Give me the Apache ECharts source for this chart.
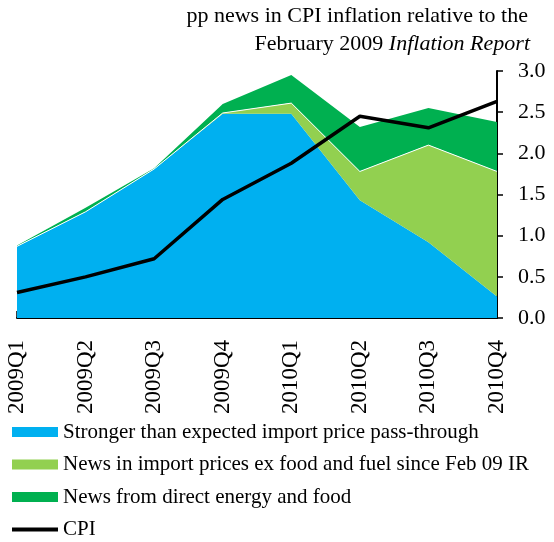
<!DOCTYPE html>
<html>
<head>
<meta charset="utf-8">
<script src="https://cdn.jsdelivr.net/npm/echarts@6/dist/echarts.min.js"></script>
<style>
  html, body { margin: 0; padding: 0; background: #fff; }
  #main { width: 554px; height: 542px; }
</style>
</head>
<body>
<div id="main"></div>
<script>
// quarters on the x axis
var quarters = ['2009Q1', '2009Q2', '2009Q3', '2009Q4', '2010Q1', '2010Q2', '2010Q3', '2010Q4'];
// stacked contributions (pp)
var passThrough = [0.87, 1.29, 1.81, 2.48, 2.48, 1.43, 0.92, 0.26];
var importNews = [0.00, 0.00, 0.00, 0.01, 0.13, 0.35, 1.18, 1.52];
var energyFood = [0.01, 0.05, 0.01, 0.11, 0.34, 0.54, 0.45, 0.60];
// CPI news line
var cpi = [0.31, 0.50, 0.72, 1.44, 1.88, 2.45, 2.31, 2.63];
var yTicks = [0, 0.5, 1, 1.5, 2, 2.5, 3];

var names = [
  'Stronger than expected import price pass-through',
  'News in import prices ex food and fuel since Feb 09 IR',
  'News from direct energy and food',
  'CPI'
];

var FONT = '"Liberation Serif", "Times New Roman", serif';
var chart = echarts.init(document.getElementById('main'));

var option = {
  animation: false,
  textStyle: { fontFamily: FONT, color: '#000' },
  graphic: [
    {
      type: 'text',
      right: 26,
      top: 5,
      style: {
        text: 'pp news in CPI inflation relative to the',
        font: '22px ' + FONT,
        fill: '#000',
        align: 'right'
      }
    },
    {
      type: 'text',
      right: 24,
      top: 33,
      style: {
        text: 'February 2009 {i|Inflation Report}',
        font: '22px ' + FONT,
        fill: '#000',
        align: 'right',
        rich: {
          i: { font: 'italic 22px ' + FONT, fill: '#000' }
        }
      }
    }
  ],
  legend: {
    orient: 'vertical',
    left: 12,
    top: 421,
    padding: 0,
    itemWidth: 46,
    itemHeight: 10,
    itemGap: 10.5,
    selectedMode: false,
    textStyle: { fontFamily: FONT, fontSize: 21, color: '#000', lineHeight: 22 },
    data: [
      { name: names[0], icon: 'rect' },
      { name: names[1], icon: 'rect' },
      { name: names[2], icon: 'rect' },
      { name: names[3], icon: 'path://M0,0 L0.01,0 Z M0,3 L46,3 L46,7 L0,7 Z M0,10 L0.01,10 Z' }
    ]
  },
  grid: { left: 17, right: 57, top: 71, bottom: 224 },
  xAxis: {
    type: 'category',
    boundaryGap: false,
    data: quarters,
    axisLine: { lineStyle: { color: '#000', width: 2 } },
    axisTick: { inside: true, length: 7, interval: 0, lineStyle: { color: '#000', width: 1.5 } },
    axisLabel: {
      rotate: 90,
      interval: 0,
      margin: 22,
      fontFamily: FONT,
      fontSize: 23,
      color: '#000'
    },
    splitLine: { show: false }
  },
  yAxis: {
    type: 'value',
    position: 'right',
    min: 0,
    max: 3,
    interval: 0.5,
    axisLine: { show: true, lineStyle: { color: '#000', width: 2 } },
    axisTick: { show: true, inside: false, length: 6, lineStyle: { color: '#000', width: 1.5 } },
    axisLabel: {
      margin: 21,
      fontFamily: FONT,
      fontSize: 22,
      color: '#000',
      formatter: function (v) { return v.toFixed(1); }
    },
    splitLine: { show: false }
  },
  series: [
    {
      name: names[0],
      type: 'line',
      stack: 'news',
      data: passThrough,
      symbol: 'none',
      color: '#00B0F0',
      lineStyle: { width: 0 },
      areaStyle: { color: '#00B0F0', opacity: 1 },
      z: 2
    },
    {
      name: names[1],
      type: 'line',
      stack: 'news',
      data: importNews,
      symbol: 'none',
      color: '#92D050',
      lineStyle: { width: 1, color: '#ffffff' },
      areaStyle: { color: '#92D050', opacity: 1 },
      z: 2
    },
    {
      name: names[2],
      type: 'line',
      stack: 'news',
      data: energyFood,
      symbol: 'none',
      color: '#00B050',
      lineStyle: { width: 0 },
      areaStyle: { color: '#00B050', opacity: 1 },
      z: 2
    },
    {
      name: names[3],
      type: 'line',
      data: cpi,
      symbol: 'none',
      color: '#000',
      lineStyle: { width: 3.5, color: '#000' },
      z: 5
    }
  ]
};

chart.setOption(option);
</script>
</body>
</html>
